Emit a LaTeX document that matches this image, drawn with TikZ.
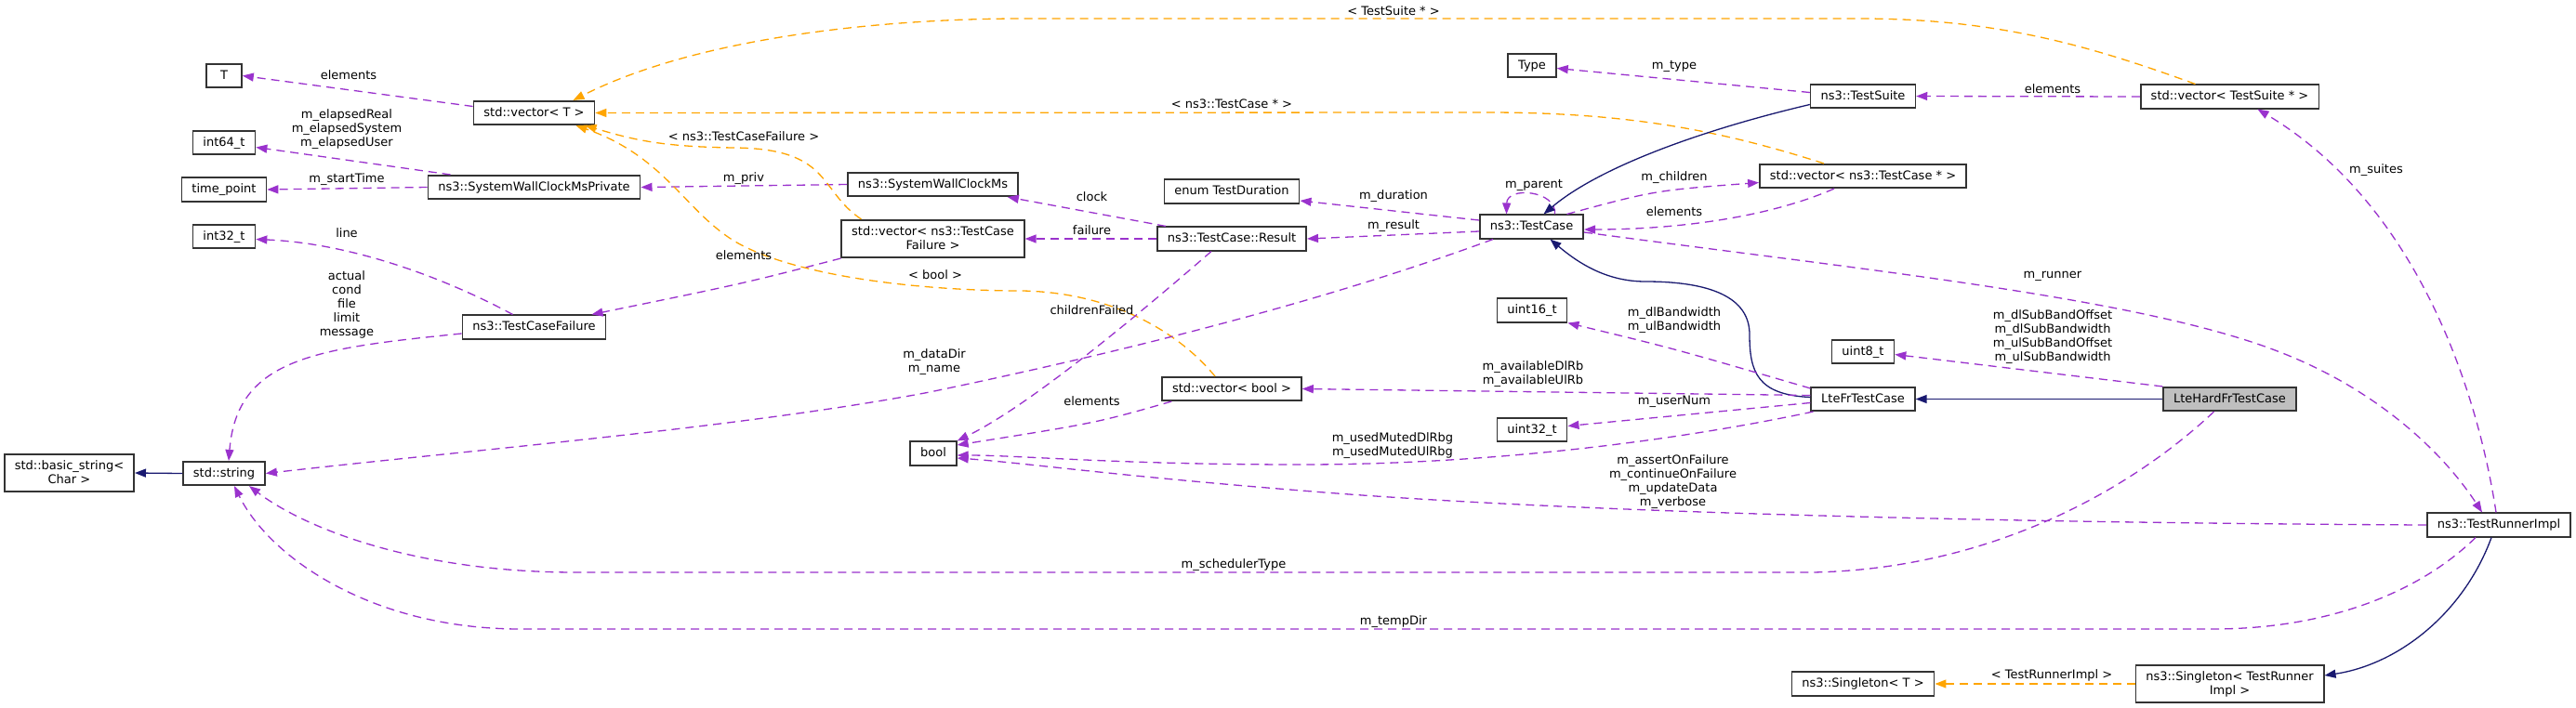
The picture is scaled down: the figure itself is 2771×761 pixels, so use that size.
\documentclass[tikz,border=0pt]{standalone}
\usepackage{fontspec}
\setmainfont{DejaVu Sans}
\usepackage{xcolor}
\usetikzlibrary{arrows.meta}
\definecolor{usecol}{HTML}{9A32CD}
\definecolor{tplcol}{HTML}{FFA500}
\definecolor{inhcol}{HTML}{191970}
\definecolor{mainfill}{HTML}{BFBFBF}

\begin{document}
\begin{tikzpicture}[x=1pt, y=-1pt,
  every node/.style={font=\fontsize{13}{15}\selectfont},
  cls/.style={draw=black!80, line width=1.6pt, fill=white, inner xsep=11pt, inner ysep=6.25pt,
    text height=10pt, text depth=3pt, align=center},
  cls2/.style={cls, text height=25pt},
  lbl/.style={align=center, inner sep=0pt},
  uses/.style={draw=usecol, line width=1.3pt, dash pattern=on 9pt off 6pt, -{Triangle[length=12pt,width=9pt]}},
  tmpl/.style={uses, draw=tplcol},
  inh/.style={draw=inhcol, line width=1.3pt, -{Triangle[length=12pt,width=9pt]}}
]
\fill[white] (0,0) rectangle (2771,761);
\useasboundingbox (0,0) rectangle (2771,761);

\node[cls, minimum width=38pt] (T) at (241,81.5) {T};
\node[cls] (vecT) at (574.5,121.5) {std::vector< T >};
\node[cls] (int64) at (241,153.5) {int64\_t};
\node[cls] (timept) at (241,204) {time\_point};
\node[cls] (swcPriv) at (574.5,201.5) {ns3::SystemWallClockMsPrivate};
\node[cls] (int32) at (241,254.5) {int32\_t};
\node[cls] (tcFail) at (574.5,352) {ns3::TestCaseFailure};
\node[cls2] (basicStr) at (74.5,509) {std::basic\_string<\\Char >};
\node[cls] (str) at (241,509.5) {std::string};
\node[cls] (swc) at (1003.5,198.5) {ns3::SystemWallClockMs};
\node[cls2] (vecFail) at (1003.5,257) {std::vector< ns3::TestCase\\Failure >};
\node[cls] (enumDur) at (1325,206) {enum TestDuration};
\node[cls] (result) at (1325,257) {ns3::TestCase::Result};
\node[cls] (bool) at (1004,488) {bool};
\node[cls] (vecBool) at (1325,418.5) {std::vector< bool >};
\node[cls] (type) at (1648,70.5) {Type};
\node[cls] (suite) at (2004,103.5) {ns3::TestSuite};
\node[cls] (vecCase) at (2004,189.5) {std::vector< ns3::TestCase * >};
\node[cls] (tcase) at (1647.5,244) {ns3::TestCase};
\node[cls] (u16) at (1648,334) {uint16\_t};
\node[cls] (u8) at (2004,378.5) {uint8\_t};
\node[cls] (lteFr) at (2004,429.5) {LteFrTestCase};
\node[cls] (u32) at (1648,462.5) {uint32\_t};
\node[cls] (singT) at (2004,736) {ns3::Singleton< T >};
\node[cls] (vecSuite) at (2398.5,104) {std::vector< TestSuite * >};
\node[cls, fill=mainfill] (hardFr) at (2398.5,429.5) {LteHardFrTestCase};
\node[cls] (runner) at (2688,565) {ns3::TestRunnerImpl};
\node[cls2] (singR) at (2398.5,736) {ns3::Singleton< TestRunner\\Impl >};

\draw[uses] ([yshift=7pt]vecT.west) -- (T.east);
\draw[uses] ([xshift=25pt]swcPriv.north west) -- ([yshift=-5pt]int64.east);
\draw[uses] (swcPriv.west) -- (timept.east);
\draw[uses] ([xshift=-23pt]tcFail.north) .. controls (480,300) and (380,262) .. ([yshift=-3pt]int32.east);
\draw[uses] ([yshift=-7pt]tcFail.west) .. controls (340,375) and (255,385) .. ([xshift=5pt]str.north);
\draw[inh] (str.west) -- (basicStr.east);
\draw[uses] (swc.west) -- (swcPriv.east);
\draw[uses] (vecFail.south west) .. controls (800,305) .. ([xshift=62pt]tcFail.north);
\draw[tmpl] ([xshift=-77pt]vecFail.north) .. controls (880,205) and (895,160) .. (790,159)
  .. controls (710,158) and (680,150) .. ([xshift=55pt]vecT.south);
\draw[tmpl] ([xshift=-18pt]vecBool.north) .. controls (1270,360) and (1200,315) .. (1100,313)
  .. controls (1000,313) and (870,300) .. (800,265) .. controls (740,235) and (720,170) .. ([xshift=45pt]vecT.south);
\draw[tmpl] ([xshift=-37pt]vecSuite.north) .. controls (2250,50) and (2150,20) .. (2000,20) -- (1100,20)
  .. controls (950,20) and (750,40) .. ([xshift=42pt]vecT.north);
\draw[tmpl] ([xshift=-42pt]vecCase.north) .. controls (1850,140) and (1750,121) .. (1600,121) -- (vecT.east);
\draw[uses] ([xshift=10pt]result.north west) -- ([xshift=-12pt]swc.south east);
\draw[uses] (result.west) -- (vecFail.east);
\draw[uses] ([xshift=-22pt]result.south) .. controls (1200,360) and (1100,440) .. (bool.north east);
\draw[uses] ([xshift=11pt]vecBool.south west) .. controls (1180,455) .. ([yshift=9pt]bool.east);
\draw[uses] ([yshift=-5pt]tcase.west) -- (result.east);
\draw[uses] ([yshift=7pt]tcase.west) -- ([yshift=-10pt]enumDur.east);
\draw[uses] ([xshift=15pt]tcase.south west) .. controls (1450,315) and (1250,370) .. (1000,422)
  .. controls (800,460) and (500,485) .. (str.east);
\draw[uses] ([xshift=25pt]tcase.north) .. controls (1675,205) and (1621,200) .. ([xshift=-27pt]tcase.north);
\draw[uses] ([xshift=38pt]tcase.north) .. controls (1780,205) .. ([yshift=-7pt]vecCase.west);
\draw[uses] ([xshift=-31pt]vecCase.south) .. controls (1900,235) and (1800,247) .. ([yshift=-3pt]tcase.east);
\draw[inh] ([yshift=-9pt]suite.west) .. controls (1830,140) and (1720,180) .. ([xshift=13pt]tcase.north);
\draw[uses] ([yshift=4pt]suite.west) -- ([yshift=-3pt]type.east);
\draw[uses] (vecSuite.west) -- (suite.east);
\draw[uses] ([yshift=-6pt]tcase.east) .. controls (2000,290) and (2300,320) .. (2450,378)
  .. controls (2560,420) and (2630,490) .. ([xshift=-18pt]runner.north);
\draw[uses] ([xshift=-3pt]runner.north) .. controls (2665,420) and (2600,220) .. ([xshift=30pt]vecSuite.south);
\draw[uses] (runner.west) .. controls (2200,563) and (1700,553) .. (1400,528)
  .. controls (1200,512) and (1100,498) .. ([yshift=-5pt]bool.east);
\draw[uses] ([xshift=-25pt]runner.south) .. controls (2600,640) and (2500,677) .. (2380,677) -- (560,677)
  .. controls (400,677) and (290,600) .. ([xshift=11pt]str.south);
\draw[uses] ([xshift=-17pt]hardFr.south) .. controls (2300,520) and (2150,612) .. (1950,616) -- (620,616)
  .. controls (450,616) and (330,570) .. ([xshift=27pt]str.south);
\draw[inh] (hardFr.west) -- (lteFr.east);
\draw[uses] (hardFr.north west) -- ([yshift=-3pt]u8.east);
\draw[inh] ([yshift=2pt]lteFr.west) .. controls (1890,425) and (1882,400) .. (1882,360)
  .. controls (1882,320) and (1840,303) .. (1770,303) .. controls (1730,303) and (1700,285) .. ([xshift=20pt]tcase.south);
\draw[uses] ([yshift=-2pt]lteFr.north west) .. controls (1800,375) .. (u16.south east);
\draw[uses] ([yshift=4pt]lteFr.west) -- (vecBool.east);
\draw[uses] ([yshift=-4pt]lteFr.west) -- ([yshift=4pt]u32.east);
\draw[uses] ([xshift=3pt]lteFr.south west) .. controls (1800,475) and (1600,500) .. (1400,500)
  .. controls (1200,500) and (1100,490) .. ([yshift=-2pt]bool.east);
\draw[inh] ([xshift=-8pt]runner.south) .. controls (2650,660) and (2580,715) .. ([yshift=9pt]singR.east);
\draw[tmpl] (singR.west) -- (singT.east);

\node[lbl] (lElemT) at (375,81) {elements};
\node[lbl] (lElapsed) at (373,139) {m\_elapsedReal\\m\_elapsedSystem\\m\_elapsedUser};
\node[lbl] (lStart) at (373,193) {m\_startTime};
\node[lbl] (lLine) at (373,251) {line};
\node[lbl] (lActual) at (373,327.5) {actual\\cond\\file\\limit\\message};
\node[lbl] (lTplFail) at (800,147) {< ns3::TestCaseFailure >};
\node[lbl] (lPriv) at (800,192) {m\_priv};
\node[lbl] (lElemFail) at (800,275) {elements};
\node[lbl] (lClock) at (1174.5,212) {clock};
\node[lbl] (lFailure) at (1174.5,248) {failure};
\node[lbl] (lTplBool) at (1006,296) {< bool >};
\node[lbl] (lChildren) at (1174.5,334) {childrenFailed};
\node[lbl] (lDataDir) at (1005,390) {m\_dataDir\\m\_name};
\node[lbl] (lElemBool) at (1174.5,432) {elements};
\node[lbl] (lTplCase) at (1325,112) {< ns3::TestCase * >};
\node[lbl] (lTplSuite) at (1499,12) {< TestSuite * >};
\node[lbl] (lType) at (1801,71) {m\_type};
\node[lbl] (lParent) at (1650,199) {m\_parent};
\node[lbl] (lDuration) at (1499,211) {m\_duration};
\node[lbl] (lChildrenV) at (1801,191) {m\_children};
\node[lbl] (lElemCase) at (1801,228) {elements};
\node[lbl] (lResult) at (1499,243) {m\_result};
\node[lbl] (lBandwidth) at (1801,344.5) {m\_dlBandwidth\\m\_ulBandwidth};
\node[lbl] (lAvail) at (1649,403) {m\_availableDlRb\\m\_availableUlRb};
\node[lbl] (lUserNum) at (1801,432.7) {m\_userNum};
\node[lbl] (lMuted) at (1498,480) {m\_usedMutedDlRbg\\m\_usedMutedUlRbg};
\node[lbl] (lAssert) at (1799.5,519) {m\_assertOnFailure\\m\_continueOnFailure\\m\_updateData\\m\_verbose};
\node[lbl] (lTempDir) at (1499,669) {m\_tempDir};
\node[lbl] (lSched) at (1327,608) {m\_schedulerType};
\node[lbl] (lElemSuite) at (2208,96) {elements};
\node[lbl] (lSuites) at (2556,183) {m\_suites};
\node[lbl] (lRunner) at (2208,297) {m\_runner};
\node[lbl] (lSubBand) at (2208,363) {m\_dlSubBandOffset\\m\_dlSubBandwidth\\m\_ulSubBandOffset\\m\_ulSubBandwidth};
\node[lbl] (lTplRunner) at (2207,727) {< TestRunnerImpl >};
\end{tikzpicture}
\end{document}
